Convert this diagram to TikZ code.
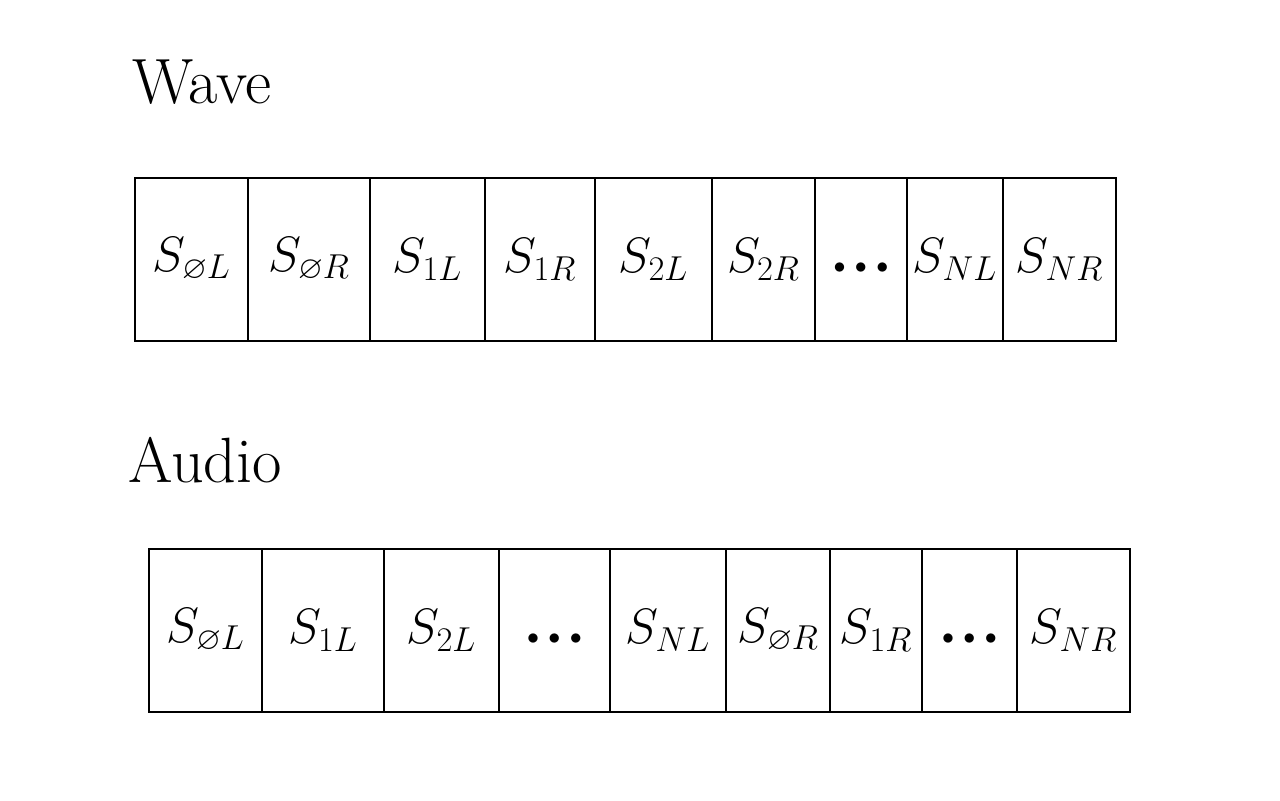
\documentclass[tikz,border=0pt]{standalone}
\usepackage{amssymb}
\newcommand{\lab}[1]{$S_{\scriptscriptstyle #1}$}
\newcommand{\dotsy}{\raisebox{-14pt}{\fontsize{13}{13}\selectfont$\bullet\,\bullet\,\bullet$}}
\begin{document}
\begin{tikzpicture}[x=0.5pt,y=-0.5pt,
  cellbox/.style={draw=black, line width=1pt, inner sep=0pt, outer sep=0pt, minimum height=81.5pt,
    font=\fontsize{32}{38}\selectfont},
  title/.style={anchor=west, inner sep=0pt, font=\fontsize{32}{38}\selectfont}]
\useasboundingbox (0,0) rectangle (1280,800);
\fill[white] (0,0) rectangle (1280,800);
\node[title] (wave) at (132,82) {Wave};
\node[title] (audio) at (128,460) {Audio};
% Wave row
\foreach \a/\b/\t [count=\i] in {
  135/248/{\lab{\varnothing L}},
  248/370/{\lab{\varnothing R}},
  370/485/{\lab{1L}},
  485/595/{\lab{1R}},
  595/712/{\lab{2L}},
  712/815/{\lab{2R}},
  815/907/{\dotsy},
  907/1003/{\lab{NL}},
  1003/1116/{\lab{NR}}} {
  \node[cellbox, minimum width={(\b-\a)*0.5pt}] (w\i) at ({(\a+\b)/2},259.5) {\t};
}
% Audio row
\foreach \a/\b/\t [count=\i] in {
  149/262/{\lab{\varnothing L}},
  262/384/{\lab{1L}},
  384/499/{\lab{2L}},
  499/610/{\dotsy},
  610/726/{\lab{NL}},
  726/830/{\lab{\varnothing R}},
  830/922/{\lab{1R}},
  922/1017/{\dotsy},
  1017/1130/{\lab{NR}}} {
  \node[cellbox, minimum width={(\b-\a)*0.5pt}] (a\i) at ({(\a+\b)/2},630.5) {\t};
}
\end{tikzpicture}
\end{document}
